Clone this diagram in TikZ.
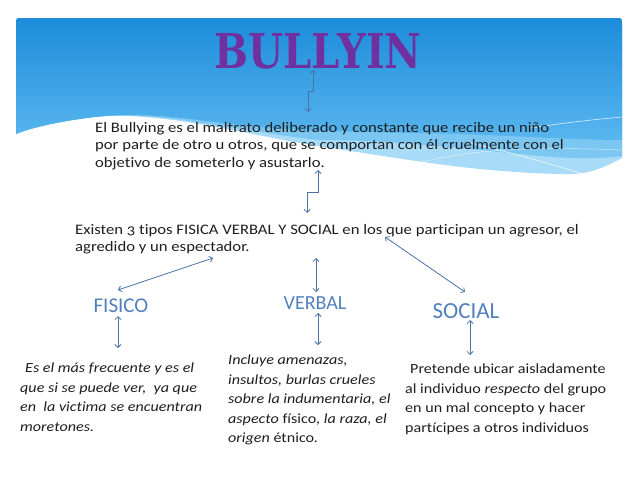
\documentclass[tikz,border=0pt]{standalone}
\usepackage{fontspec}
\setmainfont[Numbers=OldStyle,FakeStretch=1.15,Ligatures=NoCommon]{Carlito}
\newfontfamily\titlefont{DejaVu Serif}
\newfontfamily\kindfont{Carlito}
\usepackage{graphicx}
\usetikzlibrary{positioning}
\usetikzlibrary{arrows.meta}
\definecolor{bullypurple}{HTML}{7030A0}
\definecolor{kindblue}{HTML}{4F81BD}
\definecolor{linkblue}{HTML}{4A72A8}
\definecolor{skytop}{HTML}{1C8CDA}
\definecolor{skybottom}{HTML}{58B6EE}
\definecolor{skymid}{HTML}{7CC6F2}
\definecolor{skylight}{HTML}{A8DBF8}
\definecolor{inkgray}{HTML}{1E1E1E}

\begin{document}
\begin{tikzpicture}[x=1pt,y=-1pt,
  link/.style={draw=linkblue,line width=0.8pt,
    {Straight Barb[length=3pt,width=6pt]}-{Straight Barb[length=3pt,width=6pt]}},
  body/.style={anchor=north west,inner sep=0pt,align=left,text=inkgray,
    font=\fontsize{14.5}{17.5}\selectfont},
  desc/.style={body,font=\fontsize{14}{19.5}\selectfont},
  kind/.style={inner sep=0pt,text=kindblue,font=\kindfont\fontsize{21}{21}\selectfont}]
 \useasboundingbox (0,0) rectangle (638,479);
 % sky with waves
 \fill[skylight] (16,134) -- (16,24) .. controls (16,18) .. (22,18) -- (616,18)
   .. controls (622,18) .. (622,24) -- (622,158)
   .. controls (600,170) and (585,175) .. (560,174)
   .. controls (470,172) and (400,158) .. (330,148)
   .. controls (250,136) and (160,110) .. (95,117)
   .. controls (60,121) and (30,128) .. (16,134) -- cycle;
 \fill[skymid] (16,134) -- (16,24) -- (622,24) -- (622,156)
   .. controls (590,160) and (560,158) .. (520,154)
   .. controls (440,146) and (380,140) .. (320,140)
   .. controls (240,132) and (160,110) .. (95,117)
   .. controls (60,121) and (30,128) .. (16,134) -- cycle;
 \shade[top color=skytop,bottom color=skybottom] (16,134) -- (16,24) .. controls (16,18) .. (22,18) -- (616,18)
   .. controls (622,18) .. (622,24) -- (622,140)
   .. controls (580,140) and (520,136) .. (460,134)
   .. controls (380,132) and (320,132) .. (270,128)
   .. controls (200,122) and (150,110) .. (95,117)
   .. controls (60,121) and (30,128) .. (16,134) -- cycle;
 \draw[white,line width=0.6pt,opacity=0.8] (530,128) .. controls (570,122) and (600,119) .. (622,117);
 \draw[white,line width=0.6pt,opacity=0.8] (470,143) .. controls (510,152) and (550,164) .. (580,173);
 \draw[white,line width=0.5pt,opacity=0.6] (400,168) .. controls (460,150) and (520,146) .. (622,150);
 % title and texts
 \node[anchor=base,inner sep=1pt,text=bullypurple,font=\titlefont\bfseries] (title) at (318,68)
   {\resizebox{207pt}{35pt}{BULLYIN}};
 \node[body] (def) at (95,122) {El Bullying es el maltrato deliberado y constante que recibe un niño\\
   por parte de otro u otros, que se comportan con él cruelmente con el\\
   objetivo de someterlo y asustarlo.};
 \node[body] (tipos) at (75,224) {Existen 3 tipos FISICA VERBAL Y SOCIAL en los que participan un agresor, el\\
   agredido y un espectador.};
 \node[kind] (fisico) at (121,306) {FISICO};
 \node[kind,font=\kindfont\fontsize{20}{20}\selectfont] (verbal) at (315,303) {VERBAL};
 \node[kind,font=\kindfont\fontsize{23}{23}\selectfont] (social) at (466,311) {SOCIAL};
 \node[desc,font=\fontsize{14}{19.5}\selectfont\itshape] (fisdesc) at (20,363)
   {\hspace{5pt}Es el más frecuente y es el\\
   que si se puede ver,\ \ ya que\\
   en\ \ la victima se encuentran\\
   moretones.};
 \node[desc,font=\fontsize{14}{19.5}\selectfont\itshape] (verdesc) at (228,355)
   {Incluye amenazas,\\
   insultos, burlas crueles\\
   sobre la indumentaria, el\\
   aspecto \textup{físico}, la raza, el\\
   origen \textup{étnico}.};
 \node[desc] (socdesc) at (405,364)
   {\hspace{5pt}Pretende ubicar aisladamente\\
   al individuo \textit{respecto} del grupo\\
   en un mal concepto y hacer\\
   partícipes a otros individuos};
 % connectors
 \draw[link] ([xshift=-5pt]title.south) -- ++(0,22) -| ([xshift=213pt,yshift=10pt]def.north west);
 \draw[link] ([xshift=223pt,yshift=-48pt]def.north west) -- ++(0,22) -| ([xshift=232pt,yshift=11pt]tipos.north west);
 \draw[link] ([xshift=138pt,yshift=-34pt]tipos.north west) -- ([xshift=-3pt,yshift=16pt]fisico.center);
 \draw[link] ([xshift=241pt,yshift=-34pt]tipos.north west) -- ([xshift=1pt,yshift=11pt]verbal.center);
 \draw[link] ([xshift=310pt,yshift=-13pt]tipos.north west) -- ([xshift=-1pt,yshift=19pt]social.center);
 \draw[link] ([xshift=-3pt,yshift=-10pt]fisico.center) -- ([xshift=98pt,yshift=15pt]fisdesc.north west);
 \draw[link] ([xshift=3pt,yshift=-10pt]verbal.center) -- ([xshift=90pt,yshift=10pt]verdesc.north west);
 \draw[link] ([xshift=4pt,yshift=-9pt]social.center) -- ([xshift=65pt,yshift=9pt]socdesc.north west);
\end{tikzpicture}
\end{document}
